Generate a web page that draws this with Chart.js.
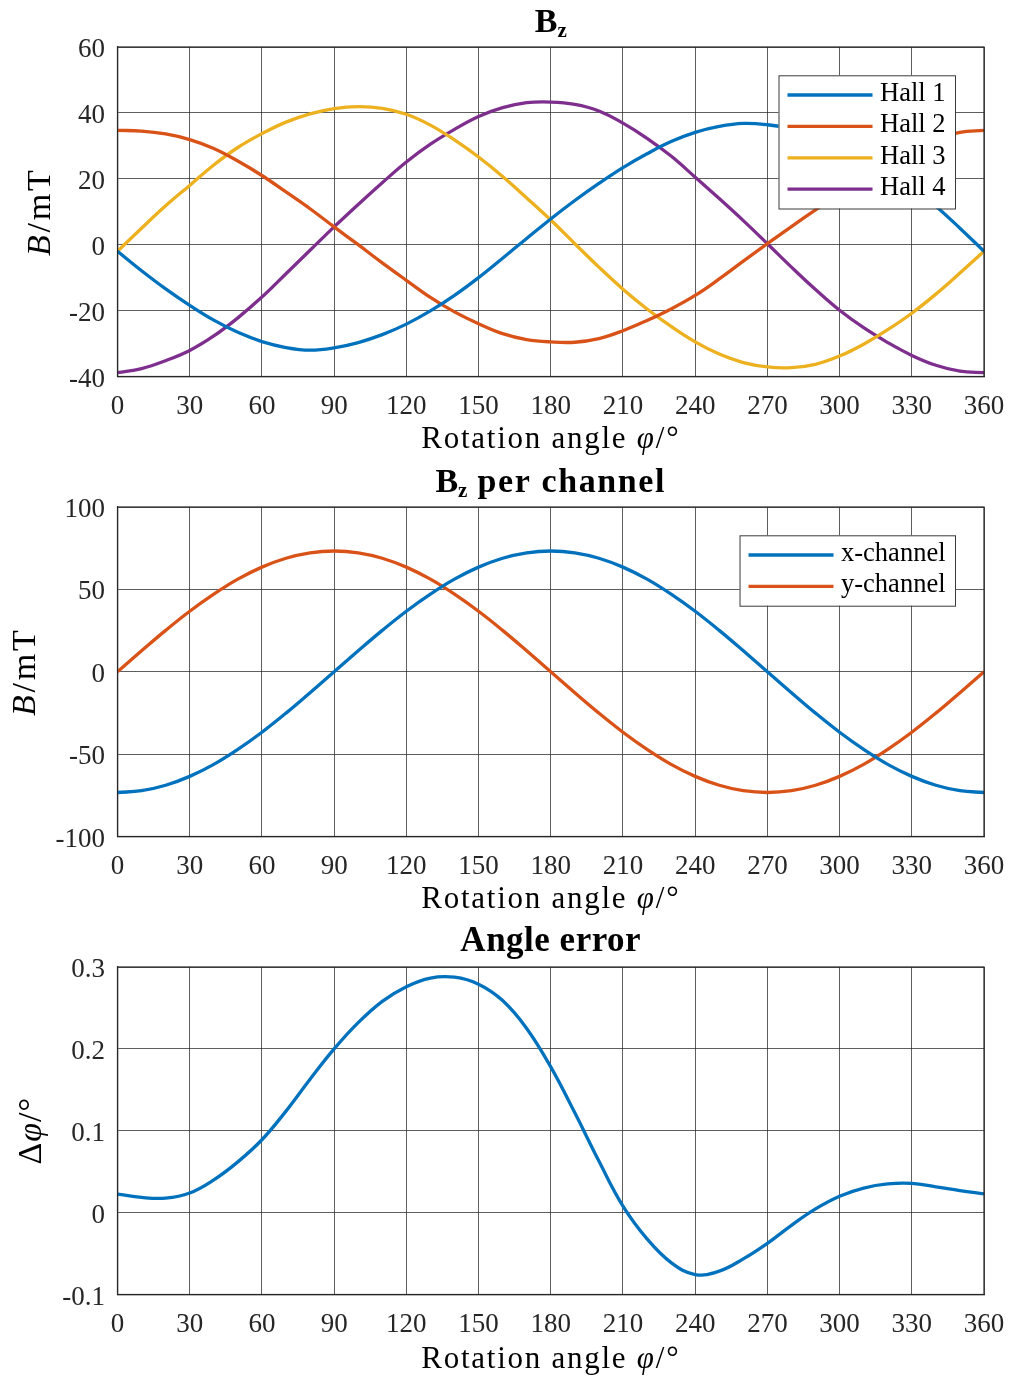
<!DOCTYPE html>
<html><head><meta charset="utf-8">
<script src="https://cdn.jsdelivr.net/npm/chart.js@4.4.0/dist/chart.umd.min.js"></script>
<style>
html,body{margin:0;padding:0;background:#fff;}
body{width:1009px;height:1378px;position:relative;overflow:hidden;}
canvas{position:absolute;left:0;}
</style></head><body>
<canvas id="c1" width="1009" height="460" style="top:0px"></canvas>
<canvas id="c2" width="1009" height="460" style="top:460px"></canvas>
<canvas id="c3" width="1009" height="458" style="top:920px"></canvas>
<script>
// ---------- data ----------
const angles = [0,10,20,30,40,50,60,70,80,90,100,110,120,130,140,150,160,170,180,
                190,200,210,220,230,240,250,260,270,280,290,300,310,320,330,340,350,360];
const hall1 = [-2,-7.9,-13.4,-18.4,-22.9,-26.6,-29.4,-31.2,-32.0,-31.3,-29.7,-27.3,-24.1,-20.1,-15.4,-10.0,-4.1,1.9,7.8,
               13.4,18.6,23.4,27.6,31.3,34.1,35.9,36.8,36.4,35.2,33.3,30.6,27.1,22.6,17.4,11.7,5.0,-2];
const hall2 = [34.7,34.5,33.6,31.9,29.2,25.4,21,16,10.9,5.4,0,-5.5,-10.8,-16,-20.4,-24,-27,-28.8,-29.5,
               -29.6,-28.5,-26.1,-23,-19.5,-15.4,-10.4,-5,0.3,5.5,10.6,15.6,20.5,25,29,32.2,34.1,34.7];
const hall3 = [-2,5,11.8,18,24.2,29.5,33.7,37.2,39.7,41.3,41.9,41.4,39.6,36.3,31.8,26.6,20.7,14.2,7.5,
               0.3,-6.8,-13.5,-19.5,-24.8,-29.5,-33.2,-35.8,-37.1,-37.3,-36.3,-33.8,-30.2,-25.8,-20.8,-15,-8.6,-2];
const hall4 = [-38.8,-37.6,-35.2,-32.1,-27.7,-22.2,-15.9,-8.8,-1.7,5.4,12.2,18.8,25.1,30.5,35,38.9,41.6,43.1,43.3,
               42.6,40.6,36.9,32.3,26.9,20.5,14,7.3,0.3,-6.8,-13.6,-19.9,-25.2,-29.7,-33.6,-36.6,-38.4,-38.8];
const xChannel = [-73.3,-72.2,-68.9,-63.5,-56.2,-47.1,-36.7,-25.1,-12.7,0,12.7,25.1,36.7,47.1,56.2,63.5,68.9,72.2,73.3,
                  72.2,68.9,63.5,56.2,47.1,36.7,25.1,12.7,0,-12.7,-25.1,-36.7,-47.1,-56.2,-63.5,-68.9,-72.2,-73.3];
const yChannel = [0,12.7,25.1,36.7,47.1,56.2,63.5,68.9,72.2,73.3,72.2,68.9,63.5,56.2,47.1,36.7,25.1,12.7,0,
                  -12.7,-25.1,-36.7,-47.1,-56.2,-63.5,-68.9,-72.2,-73.3,-72.2,-68.9,-63.5,-56.2,-47.1,-36.7,-25.1,-12.7,0];
const angleError = [0.0226,0.0185,0.0177,0.0240,0.040,0.062,0.089,0.124,0.163,0.200,0.232,0.258,0.276,0.2865,0.2875,0.279,0.259,0.225,0.178,
                    0.122,0.063,0.008,-0.032,-0.061,-0.0756,-0.0715,-0.0565,-0.0375,-0.0155,0.0045,0.020,0.030,0.035,0.0356,0.0315,0.027,0.023];

const hallLabels = ['Hall 1','Hall 2','Hall 3','Hall 4'];
const channelLabels = ['x-channel','y-channel'];
const errorLabels = ['Angle error'];
const xTickStep = 30;
const yRange1 = [-40, 60, 20];
const yRange2 = [-100, 100, 50];
const yRange3 = [-0.1, 0.3, 0.1];

const colors = ['#0072BD','#D95319','#EDB120','#7E2F8E'];
const SERIF = '"Liberation Serif","Times New Roman",serif';

// ---------- drawing helpers ----------
function runsWidth(ctx, runs){
  let w=0;
  for(const r of runs){ctx.font=r.f; ctx.letterSpacing=(r.ls||0)+'px'; w+=ctx.measureText(r.t).width;}
  return w;
}
function drawRuns(ctx, runs, cx, y){
  const w=runsWidth(ctx,runs);
  let x=cx-w/2;
  ctx.textAlign='left'; ctx.textBaseline='alphabetic'; ctx.fillStyle='#000';
  for(const r of runs){ctx.font=r.f; ctx.letterSpacing=(r.ls||0)+'px'; ctx.fillText(r.t,x,y+(r.dy||0)); x+=ctx.measureText(r.t).width;}
  ctx.letterSpacing='0px';
}
const decoPlugin = {
  id:'deco',
  afterDraw(chart){
    const o=chart.options.plugins.deco; if(!o) return;
    const ctx=chart.ctx, a=chart.chartArea;
    ctx.save();
    ctx.strokeStyle='#262626'; ctx.lineWidth=1.2;
    ctx.strokeRect(a.left,a.top,a.right-a.left,a.bottom-a.top);
    const cx=(a.left+a.right)/2;
    if(o.title) drawRuns(ctx,o.title,cx,o.titleY);
    if(o.xlabel) drawRuns(ctx,o.xlabel,cx,o.xlabelY);
    if(o.ylabel){
      ctx.save(); ctx.translate(o.ylabelX,(a.top+a.bottom)/2); ctx.rotate(-Math.PI/2);
      drawRuns(ctx,o.ylabel,0,0); ctx.restore();
    }
    if(o.legend){
      const L=o.legend;
      ctx.font=L.font; ctx.letterSpacing='0px';
      const items=chart.data.datasets.map(d=>({label:d.label,color:d.borderColor}));
      const tw=Math.max(...items.map(i=>ctx.measureText(i.label).width));
      const w=9+85+7.5+tw+9.5;
      const h=2*19.5+(items.length-1)*31.4;
      const right=a.right-29, top=a.top+28.3, left=right-w;
      ctx.fillStyle='#fff'; ctx.fillRect(left,top,w,h);
      ctx.strokeStyle='#3a3a3a'; ctx.lineWidth=1; ctx.strokeRect(left+0.5,top+0.5,w,h);
      items.forEach((it,i)=>{
        const y=top+19.7+i*31.4;
        ctx.strokeStyle=it.color; ctx.lineWidth=3.3; ctx.beginPath();
        ctx.moveTo(left+9,y); ctx.lineTo(left+94,y); ctx.stroke();
        ctx.fillStyle='#000'; ctx.textBaseline='middle'; ctx.textAlign='left';
        ctx.font=L.font; ctx.fillText(it.label,left+101.5,y-1);
      });
    }
    ctx.restore();
  }
};

function makeChart(id, series, labels, yr, decoCfg, fmt){
  const datasets = series.map((s,i)=>({
    label:labels[i], data:angles.map((a,k)=>({x:a,y:s[k]})),
    borderColor:colors[i], backgroundColor:colors[i], borderWidth:3.3,
    pointRadius:0, fill:false, tension:0.4, cubicInterpolationMode:'default'
  }));
  const tickFont={family:SERIF,size:27};
  return new Chart(document.getElementById(id),{
    type:'line',
    data:{datasets},
    options:{
      responsive:false, animation:false, devicePixelRatio:1, events:[],
      layout:{padding:{top:47,right:25,bottom:0,left:0}},
      plugins:{legend:{display:false},tooltip:{enabled:false},title:{display:false},deco:decoCfg},
      scales:{
        x:{type:'linear',min:0,max:360,
           ticks:{stepSize:xTickStep,font:tickFont,color:'#262626',padding:14,maxRotation:0,autoSkip:false},
           grid:{color:'rgba(40,40,40,0.75)',lineWidth:1,drawTicks:false},
           border:{display:true,color:'#262626',width:1.2},
           afterFit(s){s.height=83.5; s.paddingLeft=0; s.paddingRight=0;}},
        y:{type:'linear',min:yr[0],max:yr[1],
           ticks:{stepSize:yr[2],font:tickFont,color:'#262626',padding:12.5,labelOffset:3,
                  callback:fmt||(v=>String(v))},
           grid:{color:'rgba(40,40,40,0.75)',lineWidth:1,drawTicks:false},
           border:{display:true,color:'#262626',width:1.2},
           afterFit(s){s.width=117.5; s.paddingTop=0; s.paddingBottom=0;}}
      }
    },
    plugins:[decoPlugin]
  });
}

const xl=[{t:'Rotation angle ',f:`31px ${SERIF}`,ls:1.75},{t:'φ',f:`italic 31px ${SERIF}`,ls:1.75},{t:'/°',f:`31px ${SERIF}`,ls:1.75}];
const ylB=[{t:'B',f:`italic 34px ${SERIF}`,ls:2.8},{t:'/mT',f:`34px ${SERIF}`,ls:2.8}];

makeChart('c1',[hall1,hall2,hall3,hall4],hallLabels,yRange1,{
  title:[{t:'B',f:`bold 34px ${SERIF}`},{t:'z',f:`bold 21px ${SERIF}`,dy:5}],titleY:32,
  xlabel:xl,xlabelY:448,ylabel:ylB,ylabelX:50,
  legend:{font:`26.5px ${SERIF}`}
});
makeChart('c2',[xChannel,yChannel],channelLabels,yRange2,{
  title:[{t:'B',f:`bold 34px ${SERIF}`},{t:'z',f:`bold 21px ${SERIF}`,dy:5},{t:' per channel',f:`bold 34px ${SERIF}`,ls:1.6}],titleY:32,
  xlabel:xl,xlabelY:448,ylabel:ylB,ylabelX:35,
  legend:{font:`26.5px ${SERIF}`}
});
makeChart('c3',[angleError],errorLabels,yRange3,{
  title:[{t:'Angle error',f:`bold 35px ${SERIF}`,ls:0.5}],titleY:31,
  xlabel:xl,xlabelY:448,
  ylabel:[{t:'Δ',f:`34px ${SERIF}`,ls:1},{t:'φ',f:`italic 34px ${SERIF}`,ls:1},{t:'/°',f:`34px ${SERIF}`,ls:1}],ylabelX:41
}, v=>String(Math.round(v*10)/10));
</script>
</body></html>
